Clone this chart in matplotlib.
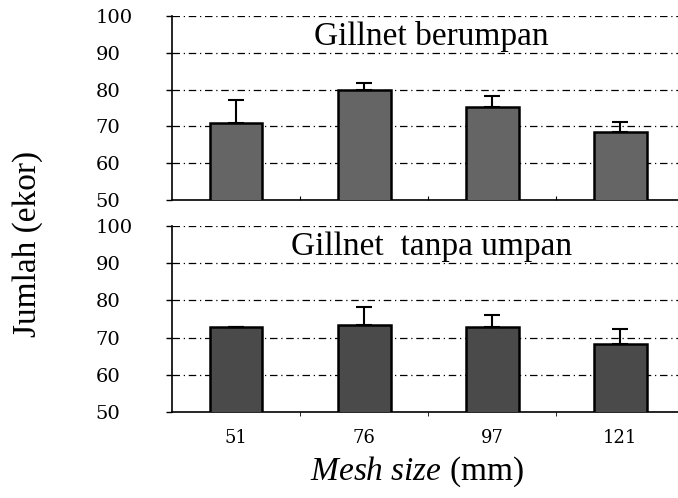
import matplotlib.pyplot as plt
import matplotlib.transforms as mtransforms
import numpy as np

plt.rcParams["mathtext.fontset"] = "custom"
plt.rcParams["mathtext.it"] = "Liberation Serif:italic"
plt.rcParams["mathtext.rm"] = "Liberation Serif"

mesh_sizes = ["51", "76", "97", "121"]
berumpan = [71, 80, 75.3, 68.5]
berumpan_err = [6.2, 1.7, 3.0, 2.7]
tanpa_umpan = [72.8, 73.4, 72.8, 68.3]
tanpa_umpan_err = [0, 4.8, 3.3, 4.0]
yticks = [50, 60, 70, 80, 90, 100]

panels = [
    ("Gillnet berumpan", berumpan, berumpan_err, "#656565"),
    ("Gillnet  tanpa umpan", tanpa_umpan, tanpa_umpan_err, "#4a4a4a"),
]

fig = plt.figure(figsize=(6.78, 4.98), dpi=100)
ax_top = fig.add_axes([0.254, 0.598, 0.746, 0.370])
ax_bot = fig.add_axes([0.254, 0.173, 0.746, 0.373])

x = np.arange(len(mesh_sizes))
for ax, (title, vals, errs, col) in zip([ax_top, ax_bot], panels):
    ax.bar(x, vals, width=0.41, bottom=0, color=col, edgecolor="black",
           linewidth=1.8, zorder=3)
    # only the upper half of each error bar is drawn
    ax.errorbar(x, vals, yerr=[np.zeros(len(errs)), errs], fmt="none",
                ecolor="black", elinewidth=1.5, capsize=6, capthick=1.5,
                zorder=4)
    ax.set_ylim(50, 100)
    ax.set_xlim(-0.5, 3.45)
    ax.set_yticks(yticks)
    for yv in yticks[1:]:
        ax.axhline(yv, color="black", lw=0.9, ls=(0, (6, 3, 1, 3)), zorder=1)
    ax.spines["top"].set_visible(False)
    ax.spines["right"].set_visible(False)
    ax.spines["left"].set_linewidth(1.2)
    ax.spines["bottom"].set_linewidth(1.2)
    ax.tick_params(axis="y", direction="out", length=4, width=1,
                   labelleft=False)
    # tick labels, left aligned like the original
    trans = mtransforms.blended_transform_factory(fig.transFigure, ax.transData)
    for yv in yticks:
        ax.text(0.141, yv, str(yv), transform=trans, ha="left",
                va="center_baseline", family="DejaVu Serif", fontsize=14)
    ax.text(0.512, 0.89, title, transform=ax.transAxes, ha="center",
            va="center", family="Liberation Serif", fontsize=24)

ax_top.set_xticks([0.5, 1.5, 2.5])
ax_top.set_xticklabels([])
ax_top.tick_params(axis="x", direction="in", length=3)

ax_bot.set_xticks(x)
ax_bot.set_xticklabels(mesh_sizes, family="DejaVu Serif", fontsize=13)
ax_bot.tick_params(axis="x", length=0, pad=12)
ax_bot.set_xticks([0.5, 1.5, 2.5], minor=True)
ax_bot.tick_params(axis="x", which="minor", direction="out", length=3)

fig.text(0.04, 0.51, "Jumlah (ekor)", rotation=90, ha="center", va="center",
         family="Liberation Serif", fontsize=24)
fig.text(0.615, 0.052, r"$\it{Mesh\ size}$ (mm)", ha="center", va="center",
         family="Liberation Serif", fontsize=24)

fig.savefig("out.png", dpi=100)
